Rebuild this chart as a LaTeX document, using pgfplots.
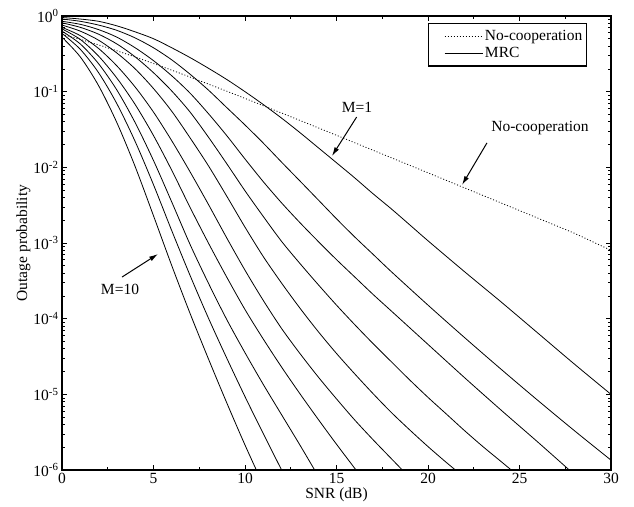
\documentclass[border=0pt]{standalone}
\usepackage{fontspec}
\setmainfont{Liberation Serif}
\usepackage{pgfplots}
\pgfplotsset{compat=1.18}
\usetikzlibrary{arrows.meta}

\begin{document}
\begin{tikzpicture}[font=\fontsize{15.5}{18}\selectfont]
\begin{axis}[
  scale only axis,
  width=549pt, height=454pt,
  xmin=0, xmax=30,
  ymode=log, ymin=1e-6, ymax=1,
  xtick={0,5,...,30},
  minor xtick={2.5,7.5,...,27.5},
  ytick={1e-6,1e-5,1e-4,1e-3,1e-2,1e-1,1},
  yticklabels={10\textsuperscript{-6},10\textsuperscript{-5},10\textsuperscript{-4},10\textsuperscript{-3},10\textsuperscript{-2},10\textsuperscript{-1},10\textsuperscript{0}},
  /pgf/number format/assume math mode=true,
  tick align=inside,
  major tick length=5pt, minor tick length=3pt,
  axis line style={line width=1.2pt},
  every tick/.style={black, line width=0.6pt},
  xlabel={SNR (dB)},
  ylabel={Outage probability},
  xlabel style={yshift=3pt},
  ylabel style={yshift=-4pt},
  legend cell align=left,
  legend style={at={(rel axis cs:0.956,0.985)}, anchor=north east,
    draw=black, line width=1.2pt, inner xsep=2pt, inner ysep=5pt, row sep=1pt,
    font=\fontsize{15.5}{18}\selectfont},
  legend image code/.code={\path (0pt,0pt); \draw[#1, line width=0.8pt] (14pt,0pt) -- (52pt,0pt);},
]
\coordinate (llc) at (rel axis cs:0,0);
\coordinate (urc) at (rel axis cs:1,1);

% no cooperation
\addplot[black, line width=0.8pt, dash pattern=on 1pt off 2pt] coordinates {
(0,0.5726) (1,0.4909) (2,0.4151) (3,0.3469) (4,0.2871) (5,0.2357)
(6,0.1923) (7,0.1560) (8,0.1260) (9,0.1015) (10,0.0815) (12,0.05222)
(14,0.03327) (16,0.02112) (18,0.01338) (20,0.008464) (22,0.005349)
(24,0.003378) (26,0.002133) (28,0.001346) (30,0.00080)};
\addlegendentry{No-cooperation}

% MRC, M = 1 ... 10
\addplot[black, line width=0.8pt, smooth] coordinates {
(0,0.955) (1,0.912) (2,0.851) (3,0.741) (4,0.617) (5,0.501) (6,0.380)
(7,0.282) (8,0.204) (9,0.145) (10,0.1) (11,0.0676) (12,0.0447)
(13,0.0288) (14,0.0182) (15,0.0115) (16,7.24e-3) (17,4.47e-3)
(18,2.82e-3) (19,1.74e-3) (20,1.07e-3) (22,4.17e-4) (24,1.66e-4)
(26,6.46e-5) (28,2.51e-5) (30,1e-5)};
\addlegendentry{MRC}

\addplot[black, line width=0.8pt, smooth, forget plot] coordinates {
(0,0.912) (1,0.851) (2,0.759) (3,0.646) (4,0.513) (5,0.380) (6,0.263)
(7,0.170) (8,0.105) (9,0.0617) (10,0.0363) (11,0.0209) (12,0.0117)
(13,6.61e-3) (14,3.72e-3) (15,2.09e-3) (16,1.20e-3) (17,7.08e-4)
(18,4.17e-4) (20,1.51e-4) (22,5.62e-5) (24,2.14e-5) (26,8.32e-6)
(28,3.31e-6) (30,1.35e-6)};

\addplot[black, line width=0.8pt, smooth, forget plot] coordinates {
(0,0.851) (1,0.776) (2,0.661) (3,0.525) (4,0.380) (5,0.257) (6,0.162)
(7,0.0955) (8,0.0513) (9,0.0263) (10,0.0129) (11,6.46e-3) (12,3.39e-3)
(13,1.86e-3) (14,1.05e-3) (15,6.03e-4) (16,3.55e-4) (17,2.09e-4)
(18,1.26e-4) (20,4.57e-5) (22,1.66e-5) (24,6.17e-6) (26,2.34e-6)
(28,8.71e-7)};

\addplot[black, line width=0.8pt, smooth, forget plot] coordinates {
(0,0.813) (1,0.708) (2,0.575) (3,0.427) (4,0.288) (5,0.178) (6,0.102)
(7,0.0537) (8,0.0251) (9,0.0112) (10,4.90e-3) (11,2.24e-3) (12,1.05e-3)
(13,5.37e-4) (14,2.82e-4) (15,1.51e-4) (16,8.32e-5) (17,4.68e-5)
(18,2.69e-5) (19,1.55e-5) (20,9.12e-6) (21,5.50e-6) (22,3.31e-6)
(23,2.04e-6) (24,1.29e-6) (25,8.13e-7)};

\addplot[black, line width=0.8pt, smooth, forget plot] coordinates {
(0,0.759) (1,0.631) (2,0.479) (3,0.324) (4,0.200) (5,0.110) (6,0.0550)
(7,0.0245) (8,0.0105) (9,4.17e-3) (10,1.62e-3) (11,6.61e-4) (12,2.95e-4)
(13,1.38e-4) (14,6.76e-5) (15,3.47e-5) (16,1.86e-5) (17,1.02e-5)
(18,5.75e-6) (19,3.39e-6) (20,2.04e-6) (21,1.26e-6) (22,7.94e-7)};

\addplot[black, line width=0.8pt, smooth, forget plot] coordinates {
(0,0.708) (1,0.550) (2,0.372) (3,0.219) (4,0.115) (5,0.0537) (6,0.0224)
(7,8.71e-3) (8,3.24e-3) (9,1.17e-3) (10,4.37e-4) (11,1.74e-4)
(12,7.41e-5) (13,3.47e-5) (14,1.70e-5) (15,8.71e-6) (16,4.57e-6)
(17,2.51e-6) (18,1.41e-6) (19,7.94e-7)};

\addplot[black, line width=0.8pt, smooth, forget plot] coordinates {
(0,0.676) (1,0.490) (2,0.295) (3,0.151) (4,0.0676) (5,0.0263) (6,9.12e-3)
(7,2.95e-3) (8,1.00e-3) (9,3.55e-4) (10,1.32e-4) (11,5.37e-5)
(12,2.29e-5) (13,1.02e-5) (14,4.68e-6) (15,2.19e-6) (16,1.05e-6)
(17,5.01e-7)};

\addplot[black, line width=0.8pt, smooth, forget plot] coordinates {
(0,0.631) (1,0.427) (2,0.234) (3,0.105) (4,0.0389) (5,0.0123) (6,3.47e-3)
(7,9.55e-4) (8,2.95e-4) (9,9.77e-5) (10,3.55e-5) (11,1.35e-5)
(12,5.37e-6) (13,2.14e-6) (14,8.32e-7)};

\addplot[black, line width=0.8pt, smooth, forget plot] coordinates {
(0,0.589) (1,0.363) (2,0.178) (3,0.0692) (4,0.0219) (5,5.89e-3)
(6,1.45e-3) (7,3.72e-4) (8,1.02e-4) (9,3.02e-5) (10,9.33e-6)
(11,3.02e-6) (12,1.00e-6) (13,3.31e-7)};

\addplot[black, line width=0.8pt, smooth, forget plot] coordinates {
(0,0.525) (1,0.288) (2,0.120) (3,0.0389) (4,0.0102) (5,2.29e-3)
(6,5.01e-4) (7,1.17e-4) (8,2.95e-5) (9,7.76e-6) (10,2.14e-6)
(11,6.31e-7)};

% annotations
\node at (axis cs:16.12,0.0627) {M=1};
\draw[-{Latex[length=9pt,width=5pt]}, line width=1pt] (axis cs:16.1,0.0462) -- (axis cs:14.75,0.0141);
\node at (axis cs:26.12,0.0331) {No-cooperation};
\draw[-{Latex[length=9pt,width=5pt]}, line width=1pt] (axis cs:23.22,0.021) -- (axis cs:21.86,5.85e-3);
\node at (axis cs:3.17,2.4e-4) {M=10};
\draw[-{Latex[length=9pt,width=5pt]}, line width=1pt] (axis cs:3.28,3.55e-4) -- (axis cs:5.25,7.16e-4);
\end{axis}
\pgfresetboundingbox
\path[use as bounding box] ([shift={(-62pt,-36pt)}]llc) rectangle ([shift={(23pt,16pt)}]urc);
\end{tikzpicture}
\end{document}
